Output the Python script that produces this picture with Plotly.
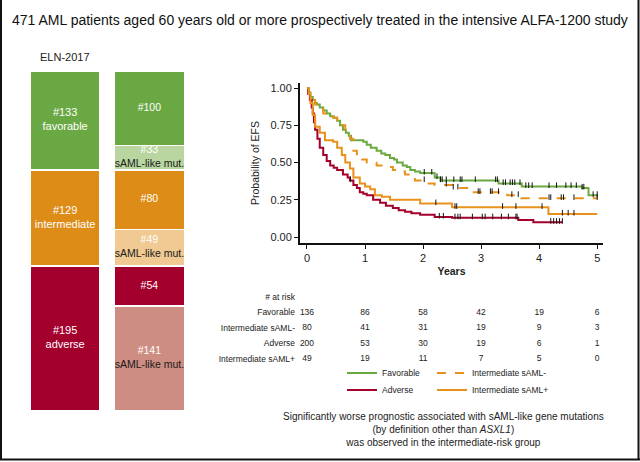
import numpy as np
import plotly.graph_objects as go

W, H = 640, 462

# ---------------- data ----------------
eln_labels = ["favorable", "intermediate", "adverse"]
eln_counts = [133, 129, 195]
eln_colors = ["#6aa843", "#dd8c17", "#a3002d"]

sub_counts = [100, 33, 80, 49, 54, 141]
sub_is_saml = [False, True, False, True, False, True]
sub_colors = ["#6aa843", "#b9d6a1", "#dd8c17", "#f0c993", "#a3002d", "#cd8d82"]

km_names = ["Favorable", "Intermediate sAML-", "Adverse", "Intermediate sAML+"]
km_colors = ["#6aaa40", "#e8921c", "#a5002b", "#e8921c"]
km_dash = ["solid", "dash", "solid", "solid"]

fav_t = [0, 0.03, 0.06, 0.1, 0.14, 0.17, 0.22, 0.28, 0.34, 0.4, 0.46, 0.52, 0.57, 0.62, 0.67, 0.72, 0.76, 0.97,
         1.03, 1.1, 1.2, 1.28, 1.35, 1.43, 1.5, 1.55, 1.65, 1.72, 1.78, 1.86, 1.95, 2.2, 2.3, 3.3, 3.7, 4.74, 4.85, 5.0]
fav_s = [1, 0.97, 0.94, 0.92, 0.90, 0.89, 0.87, 0.85, 0.83, 0.81, 0.80, 0.78, 0.75, 0.72, 0.70, 0.68, 0.65, 0.64,
         0.62, 0.60, 0.58, 0.56, 0.55, 0.53, 0.52, 0.50, 0.48, 0.47, 0.45, 0.44, 0.43, 0.40, 0.38, 0.36, 0.34, 0.33, 0.28, 0.28]
fav_cens = [2.02, 2.15, 2.24, 2.3, 2.33, 2.4, 2.53, 2.64, 2.67, 2.9, 3.25, 3.28, 3.38, 3.42, 3.5, 3.54, 3.58, 3.67,
            3.77, 3.82, 3.88, 4.17, 4.3, 4.46, 4.55, 4.64, 4.74, 4.77, 4.93, 5.0]

intm_t = [0, 0.03, 0.05, 0.1, 0.14, 0.2, 0.28, 0.36, 0.45, 0.52, 0.6, 0.66, 0.74, 0.8, 0.86, 0.95, 1.03, 1.2, 1.35,
          1.48, 1.6, 1.69, 1.86, 2.05, 2.2, 2.52, 2.84, 3.45, 3.69, 5.0]
intm_s = [1, 0.97, 0.95, 0.92, 0.89, 0.86, 0.83, 0.81, 0.80, 0.77, 0.75, 0.71, 0.66, 0.58, 0.54, 0.52, 0.50, 0.48, 0.47,
          0.45, 0.44, 0.42, 0.38, 0.36, 0.35, 0.33, 0.30, 0.28, 0.26, 0.26]
intm_cens = [2.02, 2.4, 2.52, 2.6, 2.95, 2.98, 3.16, 3.19, 3.3, 3.53, 3.64, 4.17, 4.2, 4.38, 4.42, 4.6, 5.0]

adv_t = [0, 0.02, 0.05, 0.08, 0.1, 0.12, 0.14, 0.18, 0.22, 0.28, 0.34, 0.4, 0.46, 0.52, 0.62, 0.7, 0.74, 0.8, 0.86,
         0.91, 0.97, 1.03, 1.14, 1.26, 1.36, 1.48, 1.58, 1.69, 1.8, 1.95, 2.2, 2.5, 3.64, 3.9, 4.4]
adv_s = [1, 0.96, 0.92, 0.87, 0.83, 0.77, 0.72, 0.66, 0.60, 0.55, 0.51, 0.48, 0.465, 0.45, 0.42, 0.40, 0.38, 0.35, 0.33,
         0.30, 0.29, 0.28, 0.25, 0.23, 0.21, 0.195, 0.18, 0.17, 0.16, 0.15, 0.135, 0.13, 0.115, 0.10, 0.10]
adv_cens = [0.75, 2.28, 2.35, 2.55, 2.6, 2.64, 2.85, 3.02, 3.07, 3.2, 3.35, 3.47, 3.6, 3.62, 4.2, 4.25, 4.3, 4.35, 4.4]

intp_t = [0, 0.03, 0.06, 0.1, 0.14, 0.22, 0.31, 0.45, 0.52, 0.6, 0.66, 0.74, 0.8, 0.91, 1.0, 1.09, 1.17, 1.29, 1.43,
          1.95, 2.5, 4.16, 5.0]
intp_s = [1, 0.96, 0.90, 0.82, 0.74, 0.70, 0.65, 0.64, 0.60, 0.55, 0.50, 0.46, 0.40, 0.36, 0.34, 0.32, 0.28, 0.27, 0.25,
          0.225, 0.20, 0.155, 0.155]
intp_cens = [2.22, 2.55, 2.58, 3.37, 3.6, 4.05, 4.4, 4.5, 4.6]

km_t = [fav_t, intm_t, adv_t, intp_t]
km_s = [fav_s, intm_s, adv_s, intp_s]
km_cens = [fav_cens, intm_cens, adv_cens, intp_cens]

risk_years = [0, 1, 2, 3, 4, 5]
risk_rows = ["Favorable", "Intermediate sAML-", "Adverse", "Intermediate sAML+"]
risk_values = [
    [136, 86, 58, 42, 19, 6],
    [80, 41, 31, 19, 9, 3],
    [200, 53, 30, 19, 6, 1],
    [49, 19, 11, 7, 5, 0],
]

FONT = "Liberation Sans, Arial, Helvetica, sans-serif"
TXT = "#222222"


def fx(px):
    return px / W


def fy(py):
    return 1 - py / H


fig = go.Figure()

# ---------------- stacked bars (ELN-2017) ----------------
for lab, cnt, col in zip(eln_labels, eln_counts, eln_colors):
    fig.add_trace(go.Bar(x=[0], y=[cnt], marker=dict(color=col, line=dict(color="white", width=1.5)),
                         width=0.83, xaxis="x3", yaxis="y3", showlegend=False, hoverinfo="skip"))
for cnt, col in zip(sub_counts, sub_colors):
    fig.add_trace(go.Bar(x=[1], y=[cnt], marker=dict(color=col, line=dict(color="white", width=1.5)),
                         width=0.83, xaxis="x3", yaxis="y3", showlegend=False, hoverinfo="skip"))

eln_mid = np.cumsum(eln_counts) - np.array(eln_counts) / 2
fig.add_trace(go.Scatter(x=[0] * len(eln_counts), y=eln_mid, mode="text",
                         text=[f"#{c}<br>{l}" for c, l in zip(eln_counts, eln_labels)],
                         textfont=dict(color="white", size=11, family=FONT),
                         xaxis="x3", yaxis="y3", showlegend=False, hoverinfo="skip"))
sub_mid = np.cumsum(sub_counts) - np.array(sub_counts) / 2
sub_text = [f"#{c}<br><span style='color:#1a1a1a'>sAML-like mut.</span>" if s else f"#{c}"
            for c, s in zip(sub_counts, sub_is_saml)]
fig.add_trace(go.Scatter(x=[1] * len(sub_counts), y=sub_mid, mode="text", text=sub_text,
                         textfont=dict(color="white", size=10.5, family=FONT),
                         xaxis="x3", yaxis="y3", showlegend=False, hoverinfo="skip"))

# ---------------- KM curves ----------------
legends = ["legend", "legend2", "legend3", "legend4"]
for name, t, s, col, dash, lg in zip(km_names, km_t, km_s, km_colors, km_dash, legends):
    fig.add_trace(go.Scatter(x=t, y=s, mode="lines", line=dict(color=col, width=2, dash=dash, shape="hv"),
                             name=name, legend=lg, xaxis="x", yaxis="y", hoverinfo="skip"))
for name, t, s, cens in zip(km_names, km_t, km_s, km_cens):
    ta = np.array(t)
    sa = np.array(s)
    idx = np.searchsorted(ta, np.array(cens), side="right") - 1
    fig.add_trace(go.Scatter(x=cens, y=sa[idx] + 0.008, mode="markers",
                             marker=dict(symbol="line-ns", size=4, line=dict(color="#111111", width=1)),
                             xaxis="x", yaxis="y", showlegend=False, hoverinfo="skip"))

# ---------------- at-risk table ----------------
rows_all = ["# at risk"] + risk_rows
for r, vals in zip(risk_rows, risk_values):
    fig.add_trace(go.Scatter(x=risk_years, y=[r] * len(risk_years), mode="text",
                             text=[str(v) for v in vals], textfont=dict(size=8.5, color=TXT, family=FONT),
                             xaxis="x2", yaxis="y2", showlegend=False, hoverinfo="skip"))

leg_common = dict(orientation="v", xanchor="left", yanchor="middle", font=dict(size=8.5, color=TXT),
                  bgcolor="rgba(0,0,0,0)", itemclick=False, itemdoubleclick=False)

fig.update_layout(
    width=W, height=H, margin=dict(l=0, r=0, t=0, b=0),
    paper_bgcolor="white", plot_bgcolor="white",
    font=dict(family=FONT, color=TXT),
    barmode="stack",
    xaxis=dict(domain=[fx(300), fx(603)], range=[-0.12, 5.1], showline=True, linecolor="#111", linewidth=2,
               ticks="outside", ticklen=4, tickcolor="#111", tickvals=risk_years, showgrid=False, zeroline=False,
               tickfont=dict(size=11, color=TXT),
               title=dict(text="<b>Years</b>", font=dict(size=10.5, color=TXT), standoff=4)),
    yaxis=dict(domain=[fy(243), fy(83)], range=[-0.04, 1.034], showline=True, linecolor="#111", linewidth=2,
               ticks="outside", ticklen=4, tickcolor="#111", tickvals=[0, 0.25, 0.5, 0.75, 1.0], tickformat=".2f",
               showgrid=False, zeroline=False, tickfont=dict(size=11, color=TXT),
               title=dict(text="Probability of EFS", font=dict(size=10.5, color=TXT), standoff=9)),
    xaxis2=dict(domain=[fx(300), fx(603)], matches="x", visible=False, anchor="y2"),
    yaxis2=dict(domain=[fy(366.75), fy(289.25)], type="category", categoryorder="array", categoryarray=rows_all,
                tickvals=rows_all, range=[4.5, -0.5], showgrid=False, zeroline=False, showline=False, ticks="",
                tickfont=dict(size=8.5, color=TXT), anchor="x2", ticklabelstandoff=4),
    xaxis3=dict(domain=[fx(23), fx(191.5)], range=[-0.5, 1.5], visible=False, anchor="y3"),
    yaxis3=dict(domain=[fy(411), fy(71)], range=[sum(eln_counts), 0], visible=False, anchor="x3"),
    legend=dict(x=fx(342), y=fy(373), **leg_common),
    legend2=dict(x=fx(432), y=fy(373), **leg_common),
    legend3=dict(x=fx(342), y=fy(390), **leg_common),
    legend4=dict(x=fx(432), y=fy(390), **leg_common),
    showlegend=True,
)

fig.add_annotation(x=fx(320), y=fy(20), xref="paper", yref="paper", showarrow=False,
                   xanchor="center", yanchor="middle",
                   text="471 AML patients aged 60 years old or more prospectively treated in the intensive ALFA-1200 study",
                   font=dict(size=14, color="#111"))
fig.add_annotation(x=fx(65), y=fy(57), xref="paper", yref="paper", showarrow=False,
                   xanchor="center", yanchor="middle",
                   text="ELN-2017", font=dict(size=11, color=TXT))
fig.add_annotation(x=fx(443), y=fy(409), xref="paper", yref="paper", showarrow=False,
                   xanchor="center", yanchor="top",
                   text="Significantly worse prognostic associated with sAML-like gene mutations<br>"
                        "(by definition other than <i>ASXL1</i>)<br>was observed in the intermediate-risk group",
                   font=dict(size=10, color=TXT), align="center")

# frame
for (x0, y0, x1, y1) in [(1, 0, 1, 459.5), (638.5, 0, 638.5, 459.5), (0, 459.5, 640, 459.5)]:
    fig.add_shape(type="line", xref="paper", yref="paper", x0=fx(x0), y0=fy(y0), x1=fx(x1), y1=fy(y1),
                  line=dict(color="#111", width=2))

fig.write_html("out.html", config={"displayModeBar": False},
               post_script="document.body.style.margin='0px';")
